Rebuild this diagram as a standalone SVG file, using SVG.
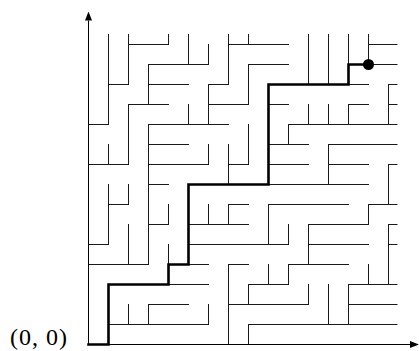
<svg xmlns="http://www.w3.org/2000/svg" width="419" height="351" viewBox="0 0 419 351">
<style>
.wall{fill:none;stroke:#1a1a1a;stroke-width:1;stroke-linecap:square}
.axis{fill:none;stroke:#000;stroke-width:1}
.route{fill:none;stroke:#000;stroke-width:2.6;stroke-linejoin:miter;stroke-linecap:square}
.lbl{font-family:"Liberation Serif","Times New Roman",serif;font-size:24px;fill:#000}
</style>
<defs>
<marker id="arr" markerUnits="userSpaceOnUse" markerWidth="9" markerHeight="7" refX="0" refY="3.5" orient="auto">
<path d="M0,0 L9,3.5 L0,7 z" fill="#000"/>
</marker>
</defs>
<rect width="419" height="351" fill="#fff"/>
<g id="walls" class="wall">
<path d="M108.5,34.5V124.5M108.5,144.5V164.5M108.5,184.5V244.5
M128.5,34.5V84.5M128.5,104.5V164.5M128.5,184.5V204.5M128.5,224.5V264.5M128.5,304.5V324.5
M148.5,64.5V104.5M148.5,124.5V264.5M148.5,304.5V324.5
M168.5,34.5V44.5M168.5,204.5V224.5M168.5,244.5V284.5
M188.5,34.5V64.5M188.5,104.5V124.5M188.5,184.5V264.5
M208.5,44.5V64.5M208.5,84.5V124.5M208.5,144.5V164.5M208.5,204.5V224.5M208.5,304.5V324.5
M228.5,34.5V84.5M228.5,144.5V184.5M228.5,204.5V224.5M228.5,264.5V344.5
M248.5,34.5V44.5M248.5,64.5V104.5M248.5,124.5V164.5M248.5,284.5V304.5M248.5,324.5V344.5
M268.5,84.5V184.5M268.5,204.5V244.5M268.5,264.5V284.5
M288.5,124.5V144.5M288.5,224.5V244.5M288.5,264.5V284.5
M308.5,34.5V84.5M308.5,104.5V124.5M308.5,224.5V264.5M308.5,284.5V304.5
M328.5,34.5V84.5M328.5,104.5V124.5M328.5,144.5V184.5M328.5,284.5V324.5
M348.5,34.5V84.5M348.5,104.5V124.5M348.5,284.5V324.5
M368.5,34.5V64.5M368.5,204.5V224.5M368.5,264.5V284.5
M388.5,84.5V124.5M388.5,164.5V204.5M388.5,224.5V284.5"/>
<path d="M128.5,44.5H168.5M228.5,44.5H288.5M368.5,44.5H397
M148.5,64.5H208.5M248.5,64.5H288.5M348.5,64.5H397
M108.5,84.5H128.5M148.5,84.5H188.5M208.5,84.5H228.5M268.5,84.5H368.5M388.5,84.5H397
M128.5,104.5H168.5M208.5,104.5H248.5M268.5,104.5H288.5M348.5,104.5H368.5M388.5,104.5H397
M88.5,124.5H108.5M148.5,124.5H228.5M288.5,124.5H397
M148.5,144.5H188.5M268.5,144.5H308.5M328.5,144.5H397
M88.5,164.5H128.5M148.5,164.5H208.5M228.5,164.5H248.5M268.5,164.5H308.5M328.5,164.5H368.5M388.5,164.5H397
M148.5,184.5H168.5M188.5,184.5H368.5
M108.5,204.5H128.5M228.5,204.5H248.5M268.5,204.5H348.5M368.5,204.5H397
M148.5,224.5H168.5M188.5,224.5H248.5M308.5,224.5H368.5M388.5,224.5H397
M88.5,244.5H108.5M188.5,244.5H288.5M308.5,244.5H368.5M388.5,244.5H397
M88.5,264.5H148.5M168.5,264.5H208.5M228.5,264.5H248.5M288.5,264.5H348.5
M108.5,284.5H208.5M248.5,284.5H288.5M348.5,284.5H397
M148.5,304.5H188.5M228.5,304.5H308.5M348.5,304.5H397
M108.5,324.5H208.5M248.5,324.5H397"/>
</g>
<g id="axes" class="axis">
<line x1="88.5" y1="344.5" x2="88.5" y2="20.5" marker-end="url(#arr)"/>
<line x1="88.5" y1="344.5" x2="410" y2="344.5" marker-end="url(#arr)"/>
</g>
<g id="route">
<path class="route" d="M88.5,344.5H108.5V284.5H168.5V264.5H188.5V184.5H268.5V84.5H348.5V64.5H368.5"/>
<circle cx="368.5" cy="64.5" r="5.5" fill="#000"/>
</g>
<text id="origin" class="lbl" x="10" y="345" textLength="57" lengthAdjust="spacing">(0, 0)</text>
</svg>
